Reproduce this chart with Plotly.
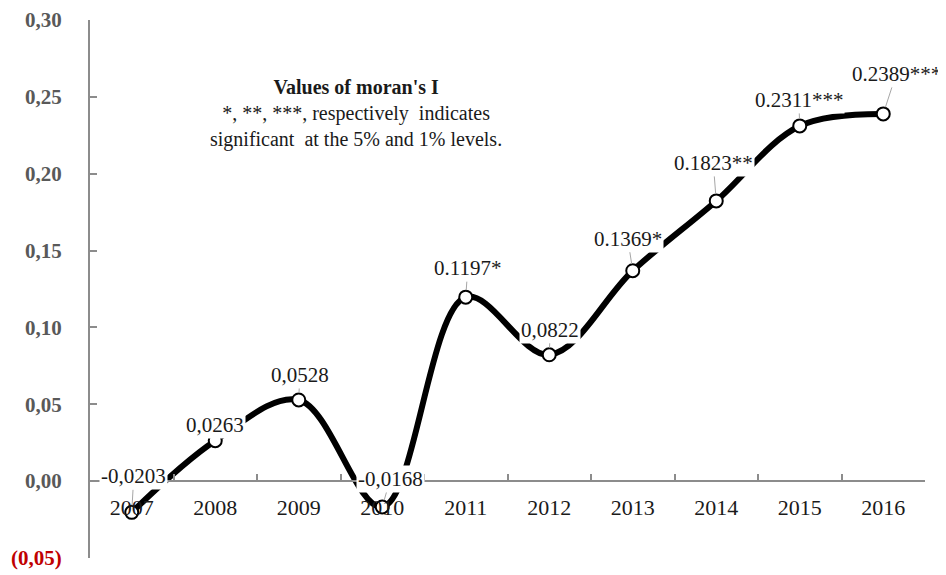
import plotly.graph_objects as go

years = ["2007", "2008", "2009", "2010", "2011", "2012", "2013", "2014", "2015", "2016"]
values = [-0.0203, 0.0263, 0.0528, -0.0168, 0.1197, 0.0822, 0.1369, 0.1823, 0.2311, 0.2389]
labels = ["-0,0203", "0,0263", "0,0528", "-0,0168", "0.1197*", "0,0822",
          "0.1369*", "0.1823**", "0.2311***", "0.2389***"]
y_tickvals = [-0.05, 0.0, 0.05, 0.10, 0.15, 0.20, 0.25, 0.30]
y_ticktext = ["<span style='color:#c00000'>(0,05)</span>", "0,00", "0,05", "0,10",
              "0,15", "0,20", "0,25", "0,30"]
title_lines = ["<b>Values of moran's I</b>",
               "*, **, ***, respectively  indicates",
               "significant  at the 5% and 1% levels."]

# pixel offsets of labels relative to points
label_offsets = [(2, -36), (0, -16), (1, -25), (8, -28), (2, -29), (1, -25),
                 (-5, -32), (-3, -38), (-1, -26), (13, -40)]

SERIF = "Liberation Serif, Times New Roman, serif"

fig = go.Figure()
fig.add_trace(go.Scatter(
    x=years, y=values, mode="lines+markers",
    line=dict(color="black", width=6, shape="spline", smoothing=1.0),
    marker=dict(size=13, color="white", line=dict(color="black", width=2)),
    cliponaxis=False, hoverinfo="skip", showlegend=False,
))

for i, (v, lab, (dx, dy)) in enumerate(zip(values, labels, label_offsets)):
    fig.add_annotation(
        x=i, y=v, text=lab, showarrow=True, arrowhead=0, arrowwidth=1,
        arrowcolor="#a6a6a6", ax=dx, ay=dy, standoff=7,
        bgcolor="white", borderpad=1,
        font=dict(family=SERIF, size=21, color="#1a1a1a"),
    )

fig.add_annotation(
    xref="paper", yref="paper", x=0.319, y=0.90, xanchor="center", yanchor="top",
    text="<br>".join(title_lines), showarrow=False, align="center",
    font=dict(family=SERIF, size=20, color="#1a1a1a"),
)

# page body has an 8px margin: size the figure so the plot lands where the reference has it
fig.update_layout(
    width=938, height=567,
    margin=dict(l=82, r=21, t=12, b=17, autoexpand=False),
    paper_bgcolor="white", plot_bgcolor="white",
    xaxis=dict(
        type="category", categoryorder="array", categoryarray=years,
        range=[-0.5, len(years) - 0.5], anchor="free", position=0.05 / 0.35,
        showline=True, linecolor="#8c8c8c", linewidth=2,
        ticks="inside", tickson="boundaries", ticklen=6, tickcolor="#8c8c8c", tickwidth=2,
        showgrid=False, zeroline=False, tickangle=0, automargin=False,
        tickfont=dict(family=SERIF, size=22, color="#1a1a1a"),
        ticklabelstandoff=6,
    ),
    yaxis=dict(
        range=[-0.05, 0.30], tickvals=y_tickvals, ticktext=y_ticktext,
        showline=True, linecolor="#8c8c8c", linewidth=2, automargin=False,
        ticks="inside", ticklen=7, tickcolor="#8c8c8c", tickwidth=2,
        showgrid=False, zeroline=False, ticklabeloverflow="allow",
        tickfont=dict(family=SERIF, size=21, color="#595959", weight="bold"),
        ticklabelstandoff=22,
    ),
)

fig.write_html("out.html")
